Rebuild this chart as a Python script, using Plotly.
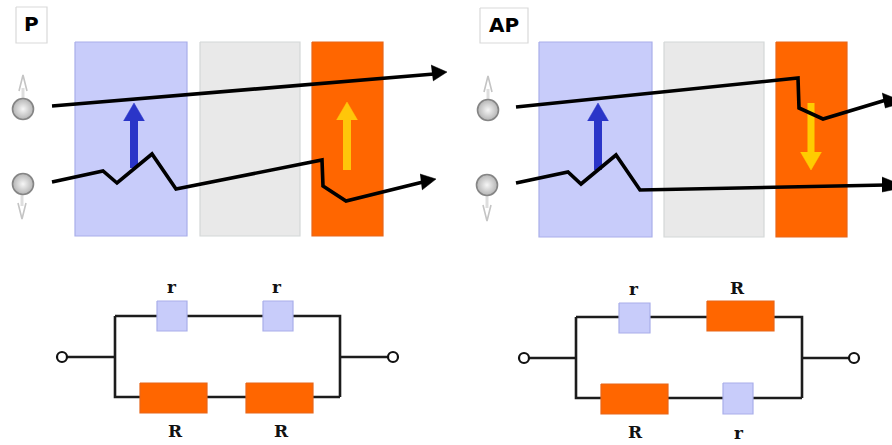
import plotly.graph_objects as go

BLUE, GRAY, ORANGE = "#c8ccfa", "#e9e9e9", "#ff6600"
BLUE_EDGE, GRAY_EDGE, ORANGE_EDGE = "#a9aeea", "#d4d8d8", "#e8661a"

# rectangles: x0, x1, y0, y1, fill, edge
panel_rects = [
    (75, 187, 42, 236, BLUE, BLUE_EDGE), (200, 300, 42, 236, GRAY, GRAY_EDGE), (312, 383, 42, 236, ORANGE, ORANGE_EDGE),
    (539, 652, 42, 237, BLUE, BLUE_EDGE), (664, 764, 42, 237, GRAY, GRAY_EDGE), (776, 847, 42, 237, ORANGE, ORANGE_EDGE),
]
label_boxes = [(16, 47, 7, 43, "#ffffff", "#d9d9d9"), (480, 528, 8, 43, "#ffffff", "#d9d9d9")]
circuit_rects = [
    (157, 187, 301, 331, BLUE, BLUE_EDGE), (263, 293, 301, 331, BLUE, BLUE_EDGE),
    (140, 207, 383, 413, ORANGE, ORANGE_EDGE), (246, 313, 383, 413, ORANGE, ORANGE_EDGE),
    (619, 650, 303, 333, BLUE, BLUE_EDGE), (707, 774, 301, 331, ORANGE, ORANGE_EDGE),
    (601, 668, 384, 414, ORANGE, ORANGE_EDGE), (723, 753, 383, 414, BLUE, BLUE_EDGE),
]

# electron paths
paths_x = [
    [52, 434],
    [52, 103, 117, 152, 176, 322, 323, 346, 423],
    [516, 798, 799, 823, 886],
    [516, 568, 581, 616, 640, 886],
]
paths_y = [
    [106, 74],
    [182, 171, 183, 154, 189, 160, 186, 201, 182],
    [107, 78, 108, 119, 100],
    [183, 172, 184, 155, 190, 185],
]
# arrow heads
heads_x = [[431, 447, 433], [420, 436, 422], [882, 892, 892, 885], [882, 892, 892, 882]]
heads_y = [[65, 72, 81], [174, 179, 190], [93, 97, 106, 108], [177, 181, 190, 192]]

# magnetisation arrows: x, tail y, tip y, colour, shaft width
mag_arrows = [
    (134, 168, 103, "#2a35c8", 8), (347, 170, 102, "#ffc60a", 8),
    (598, 170, 103, "#2a35c8", 8), (811, 103, 170, "#ffcc00", 7),
]

# spins
balls_x = [23, 23, 488, 487]
balls_y = [109, 184, 110, 185]
spin_arrows_x = [[19, 23, 27], [18, 22, 26], [484, 488, 492], [483, 487, 491]]
spin_arrows_y = [[91, 75, 91], [203, 219, 203], [92, 76, 92], [205, 221, 205]]
spin_stems_x = [[23, 23], [22, 22], [488, 488], [487, 487]]
spin_stems_y = [[98, 88], [195, 206], [99, 89], [196, 208]]

# circuit wires
wires_x = [
    [67, 115], [115, 340, 340], [115, 115, 340], [340, 388],
    [529, 576], [576, 802, 802], [576, 576, 802], [802, 849],
]
wires_y = [
    [357, 357], [316, 316, 397], [316, 397, 397], [357, 357],
    [358, 358], [317, 317, 398], [317, 398, 398], [358, 358],
]
terminals_x = [62, 393, 524, 854]
terminals_y = [357, 357, 358, 358]

titles = [("P", 31, 24, 20), ("AP", 504, 25, 20)]
r_labels = [
    ("r", 172, 287), ("r", 277, 287), ("R", 175, 431), ("R", 281, 431),
    ("r", 634, 289), ("R", 737, 288), ("R", 635, 432), ("r", 739, 433),
]

fig = go.Figure()


def add(x, y, **kw):
    fig.add_trace(go.Scatter(x=x, y=y, showlegend=False, hoverinfo="skip", **kw))


def rect(r):
    x0, x1, y0, y1, fill, edge = r
    add([x0, x1, x1, x0, x0], [y0, y0, y1, y1, y0], mode="lines", fill="toself",
        fillcolor=fill, line=dict(color=edge, width=1.2))


for r in panel_rects + label_boxes:
    rect(r)

# magnetisation arrows
for x, tail, tip, col, w in mag_arrows:
    sgn = 1 if tip < tail else -1
    add([x, x], [tail, tip + sgn * 15], mode="lines", line=dict(color=col, width=w))
    add([x - 10.5, x, x + 10.5], [tip + sgn * 18, tip, tip + sgn * 18], mode="lines", fill="toself",
        fillcolor=col, line=dict(color=col, width=0.5))

# electron paths
for x, y in zip(paths_x, paths_y):
    add(x, y, mode="lines", line=dict(color="#000000", width=3.6, simplify=False))
for x, y in zip(heads_x, heads_y):
    add(x, y, mode="lines", fill="toself", fillcolor="#000000", line=dict(color="#000000", width=0.5))

# spins
for x, y in zip(spin_stems_x, spin_stems_y):
    add(x, y, mode="lines", line=dict(color="#dedede", width=3))
for x, y in zip(spin_arrows_x, spin_arrows_y):
    add(x, y, mode="lines", line=dict(color="#c4c4c4", width=1.6))
add(balls_x, balls_y, mode="markers", marker=dict(
    size=21, color="#b4b4b4", line=dict(color="#858585", width=1.6),
    gradient=dict(type="radial", color="#f6f6f6")))

# circuits
for x, y in zip(wires_x, wires_y):
    add(x, y, mode="lines", line=dict(color="#1c1c1c", width=2.6))
for r in circuit_rects:
    rect(r)
add(terminals_x, terminals_y, mode="markers", marker=dict(
    size=10, color="#ffffff", line=dict(color="#111111", width=2.2)))

for t, x, y, s in titles:
    fig.add_annotation(x=x, y=y, text=t, showarrow=False,
                       font=dict(family="DejaVu Sans", size=s, color="#000000", weight="bold"))
for t, x, y in r_labels:
    fig.add_annotation(x=x, y=y, text=t, showarrow=False,
                       font=dict(family="DejaVu Serif", size=17, color="#111111", weight="bold"))

fig.update_layout(
    margin=dict(l=0, r=0, t=0, b=0), width=892, height=445,
    paper_bgcolor="#ffffff", plot_bgcolor="#ffffff",
    xaxis=dict(range=[0, 892], visible=False, fixedrange=True),
    yaxis=dict(range=[445, 0], visible=False, fixedrange=True),
)
fig.write_html("out.html", config={"displayModeBar": False},
               post_script="document.body.style.margin='0';")
